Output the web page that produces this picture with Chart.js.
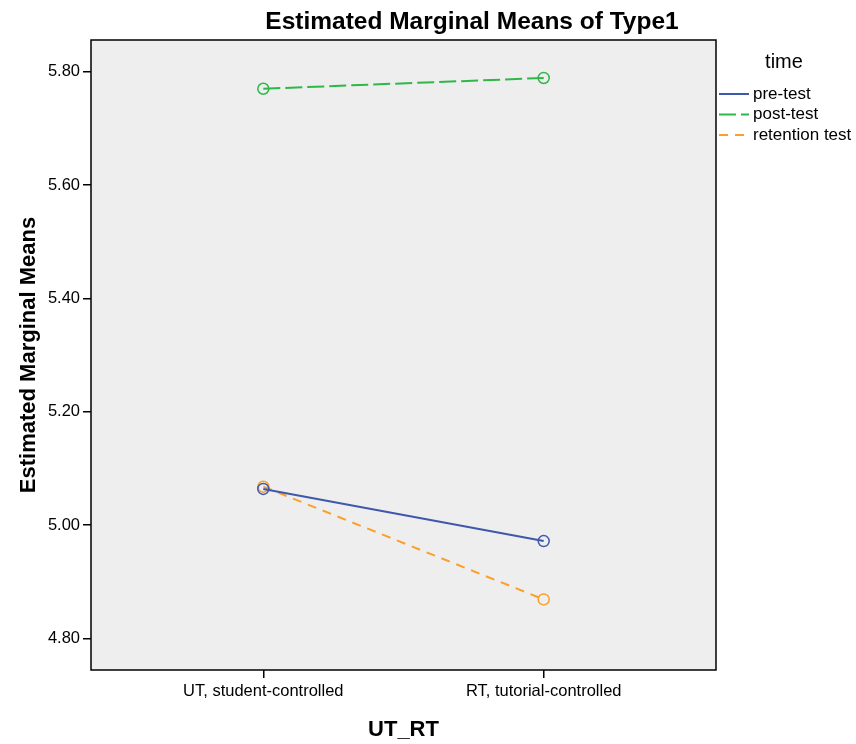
<!DOCTYPE html>
<html>
<head>
<meta charset="utf-8">
<script src="https://cdn.jsdelivr.net/npm/chart.js@4/dist/chart.umd.min.js"></script>
<style>
  body { margin: 0; background: #fff; }
  #wrap { width: 856px; height: 744px; position: relative; }
</style>
</head>
<body>
<div id="wrap"><canvas id="emmChart"></canvas></div>
<script>
const categories = ["UT, student-controlled", "RT, tutorial-controlled"];
const seriesNames = ["pre-test", "post-test", "retention test"];
const preTest = [5.064, 4.972];
const postTest = [5.770, 5.789];
const retentionTest = [5.068, 4.869];
const yTicks = [4.80, 5.00, 5.20, 5.40, 5.60, 5.80];

const FONT = "'Liberation Sans', Arial, sans-serif";

function toPoints(values) {
    return values.map((v, i) => ({x: i, y: v}));
}

// plot background, frame, title and legend
const frame = {
    id: 'frame',
    beforeDraw(chart) {
        const a = chart.chartArea, ctx = chart.ctx;
        ctx.save();
        ctx.fillStyle = '#eeeeee';
        ctx.fillRect(a.left, a.top, a.right - a.left, a.bottom - a.top);
        ctx.restore();
    },
    afterDraw(chart) {
        const a = chart.chartArea, ctx = chart.ctx;
        ctx.save();
        ctx.strokeStyle = '#000';
        ctx.lineWidth = 1.5;
        ctx.strokeRect(a.left, a.top, a.right - a.left, a.bottom - a.top);

        ctx.fillStyle = '#000';
        ctx.font = 'bold 24.5px ' + FONT;
        ctx.textAlign = 'center';
        ctx.textBaseline = 'middle';
        ctx.fillText('Estimated Marginal Means of Type1', 472, 22);

        ctx.font = '20px ' + FONT;
        ctx.fillText('time', 784, 62);
        ctx.font = '17px ' + FONT;
        ctx.textAlign = 'left';
        chart.data.datasets.forEach((ds, i) => {
            const y = 94 + i * 20.5;
            ctx.strokeStyle = ds.borderColor;
            ctx.lineWidth = 2;
            ctx.setLineDash(ds.borderDash || []);
            ctx.beginPath();
            ctx.moveTo(719, y);
            ctx.lineTo(749, y);
            ctx.stroke();
            ctx.setLineDash([]);
            ctx.fillStyle = '#000';
            ctx.fillText(ds.label, 753, y);
        });
        ctx.restore();
    }
};

function makeSet(label, values, color, dash) {
    return {
        label: label,
        data: toPoints(values),
        borderColor: color,
        backgroundColor: 'rgba(0,0,0,0)',
        borderWidth: 2,
        borderDash: dash,
        pointRadius: 5.5,
        pointBorderWidth: 1.5,
        pointBorderColor: color,
        pointBackgroundColor: 'rgba(0,0,0,0)',
        pointStyle: 'circle',
        tension: 0
    };
}

new Chart(document.getElementById('emmChart'), {
    type: 'line',
    data: {
        datasets: [
            makeSet(seriesNames[0], preTest, '#3e58ac', []),
            makeSet(seriesNames[1], postTest, '#2eb848', [17, 5]),
            makeSet(seriesNames[2], retentionTest, '#fb9f29', [9, 7])
        ]
    },
    options: {
        responsive: true,
        maintainAspectRatio: false,
        animation: false,
        layout: { padding: { top: 40, right: 140, bottom: 0, left: 0 } },
        plugins: {
            legend: { display: false },
            tooltip: { enabled: false }
        },
        scales: {
            x: {
                type: 'linear',
                min: -0.6145,
                max: 1.6145,
                afterBuildTicks: (scale) => { scale.ticks = categories.map((c, i) => ({value: i})); },
                afterFit: (scale) => { scale.height = 74; },
                ticks: {
                    callback: (v) => categories[v],
                    color: '#000',
                    font: { family: FONT, size: 16.5 },
                    padding: 4,
                    maxRotation: 0
                },
                grid: { drawOnChartArea: false, drawTicks: true, tickLength: 8, color: '#000', lineWidth: 1.5 },
                border: { display: false },
                title: {
                    display: true,
                    text: 'UT_RT',
                    color: '#000',
                    font: { family: FONT, size: 22, weight: 'bold' },
                    padding: { top: 0, bottom: 1 }
                }
            },
            y: {
                type: 'linear',
                min: 4.7445,
                max: 5.856,
                afterBuildTicks: (scale) => { scale.ticks = yTicks.map(v => ({value: v})); },
                afterFit: (scale) => { scale.width = 91; },
                ticks: {
                    callback: (v) => v.toFixed(2),
                    color: '#000',
                    font: { family: FONT, size: 16.5 },
                    padding: 3
                },
                grid: { drawOnChartArea: false, drawTicks: true, tickLength: 8, color: '#000', lineWidth: 1.5 },
                border: { display: false },
                title: {
                    display: true,
                    text: 'Estimated Marginal Means',
                    color: '#000',
                    font: { family: FONT, size: 22, weight: 'bold' },
                    padding: { top: 16, bottom: 0 }
                }
            }
        }
    },
    plugins: [frame]
});
</script>
</body>
</html>
